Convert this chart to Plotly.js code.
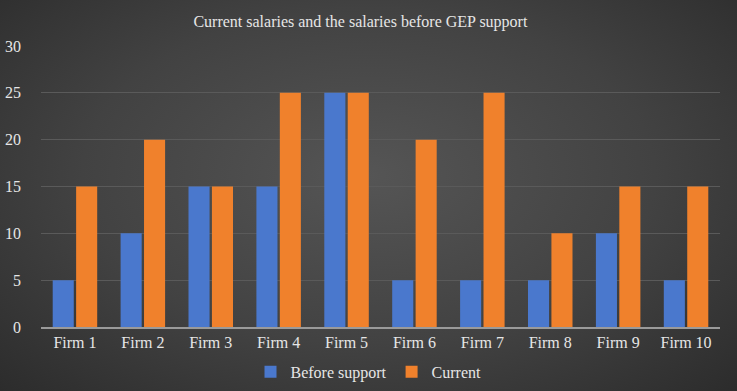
<!DOCTYPE html>
<html><head><meta charset="utf-8">
<script src="https://cdn.plot.ly/plotly-3.0.1.min.js"></script>
<style>
html,body{margin:0;padding:0;}
#chart{width:737px;height:391px;background:radial-gradient(ellipse at 50% 45%, #555555 0%, #424242 55%, #2c2c2c 100%);}
</style></head>
<body><div id="chart"></div>
<script>
var firms = ["Firm 1","Firm 2","Firm 3","Firm 4","Firm 5","Firm 6","Firm 7","Firm 8","Firm 9","Firm 10"];
var beforeSupport = [5,10,15,15,25,5,5,5,10,5];
var current = [15,20,15,25,25,20,25,10,15,15];
var yTicks = [0,5,10,15,20,25,30];

var font = {family:"Liberation Serif", size:16, color:"#e6e6e6"};
var traces = [
  {type:"bar", name:"Before support", x:firms, y:beforeSupport,
   marker:{color:"#4a78cd", line:{width:0}}},
  {type:"bar", name:"Current", x:firms, y:current,
   marker:{color:"#f0812c", line:{width:0}}}
];
var layout = {
  width:737, height:391,
  paper_bgcolor:"rgba(0,0,0,0)", plot_bgcolor:"rgba(0,0,0,0)",
  margin:{l:41, r:17, t:46, b:64},
  font:font,
  title:{text:"Current salaries and the salaries before GEP support", font:{family:font.family, size:16, color:"#e6e6e6"}, x:0.489, xanchor:"center", xref:"container", y:0.944, yanchor:"middle"},
  barmode:"group", bargap:0.31, bargroupgap:0.1,
  xaxis:{showgrid:false, showline:true, linecolor:"#9a9a9a", linewidth:1.5, ticks:"", tickfont:font, zeroline:false, automargin:false},
  yaxis:{range:[0,30], tickvals:yTicks, showgrid:true, gridcolor:"#5a5a5a", gridwidth:1, zeroline:false, showline:false, ticks:"", tickfont:font, ticklabelstandoff:19, automargin:false},
  showlegend:true,
  legend:{orientation:"h", xref:"container", yref:"container", x:0.5, xanchor:"center", y:0.049, yanchor:"middle", font:font, itemwidth:30, tracegroupgap:0, bgcolor:"rgba(0,0,0,0)"}
};
Plotly.newPlot("chart", traces, layout, {displayModeBar:false, staticPlot:true});
</script></body></html>
